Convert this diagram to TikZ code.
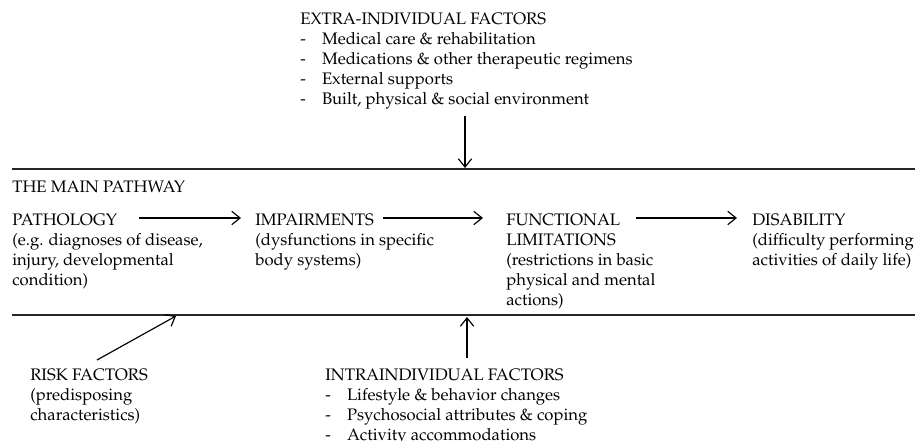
\documentclass[tikz,border=0pt]{standalone}
\usepackage[T1]{fontenc}
\usepackage{mathpazo}
\usetikzlibrary{arrows.meta,positioning}
\tikzset{
    txtL/.style={anchor=north west, align=left, inner sep=0pt,
        font=\fontsize{10}{12}\selectfont},
    arrP/.style={-{Straight Barb[length=5pt,width=8pt]}, line width=0.7pt},
    ruleL/.style={line width=1.1pt, black!85}
}
\newcommand{\dsh}{\makebox[13pt][l]{-}}

\begin{document}
\begin{tikzpicture}[x=0.6pt,y=-0.6pt]
    \useasboundingbox (0,0) rectangle (915,441);
    % the two rules
    \coordinate (r1) at (12,169);
    \coordinate (r2) at (915,169);
    \coordinate (r3) at (12,315);
    \coordinate (r4) at (915,315);
    \draw[ruleL] (r1) -- (r2);
    \draw[ruleL] (r3) -- (r4);
    % arrow ends
    \coordinate (a1) at (139,218);
    \coordinate (a2) at (241,218);
    \coordinate (a3) at (383,218);
    \coordinate (a4) at (483,218);
    \coordinate (a5) at (636,218);
    \coordinate (a6) at (737,218);
    \coordinate (b1) at (465,116);
    \coordinate (b2) at (465,168);
    \coordinate (b3) at (467,358);
    \coordinate (b4) at (467,317);
    \coordinate (b5) at (97,360);
    \coordinate (b6) at (176,316);
    % texts
    \node[txtL] (extraF) at (300,12.5) {EXTRA-INDIVIDUAL FACTORS\\
        \dsh Medical care \& rehabilitation\\
        \dsh Medications \& other therapeutic regimens\\
        \dsh External supports\\
        \dsh Built, physical \& social environment};
    \node[txtL] (mainP) at (12,180.5) {THE MAIN PATHWAY};
    \node[txtL] (patho) at (12,213.5) {PATHOLOGY\\(e.g. diagnoses of disease,\\injury, developmental\\condition)};
    \node[txtL] (impair) at (255,213.5) {IMPAIRMENTS\\(dysfunctions in specific\\body systems)};
    \node[txtL] (funcL) at (506,213.5) {FUNCTIONAL\\LIMITATIONS\\(restrictions in basic\\physical and mental\\actions)};
    \node[txtL] (disab) at (752,213.5) {DISABILITY\\(difficulty performing\\activities of daily life)};
    \node[txtL] (riskF) at (30,368.5) {RISK FACTORS\\(predisposing\\characteristics)};
    \node[txtL] (intraF) at (325,368.5) {INTRAINDIVIDUAL FACTORS\\
        \dsh Lifestyle \& behavior changes\\
        \dsh Psychosocial attributes \& coping\\
        \dsh Activity accommodations};
    % arrows
    \draw[arrP] (a1) -- (a2);
    \draw[arrP] (a3) -- (a4);
    \draw[arrP] (a5) -- (a6);
    \draw[arrP] (b1) -- (b2);
    \draw[arrP] (b3) -- (b4);
    \draw[arrP] (b5) -- (b6);
\end{tikzpicture}
\end{document}
